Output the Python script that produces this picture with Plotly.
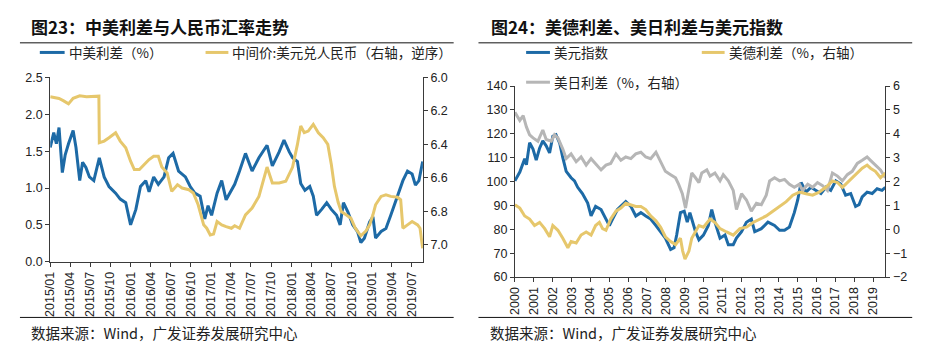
import plotly.graph_objects as go

# ---------------- data: left chart (图23) ----------------
spread_dates = ["2015-01-01", "2015-01-17", "2015-01-29", "2015-02-10", "2015-02-25", "2015-03-10",
                "2015-03-25", "2015-04-15", "2015-04-28", "2015-05-15", "2015-05-28", "2015-06-12",
                "2015-06-28", "2015-07-18", "2015-08-12", "2015-09-03", "2015-09-25", "2015-10-25",
                "2015-11-15", "2015-12-10", "2016-01-01", "2016-01-25", "2016-02-15", "2016-03-10",
                "2016-03-25", "2016-04-15", "2016-05-06", "2016-06-01", "2016-06-22", "2016-07-12",
                "2016-08-06", "2016-09-06", "2016-09-28", "2016-10-19", "2016-11-12", "2016-12-03",
                "2016-12-18", "2017-01-03", "2017-01-28", "2017-02-18", "2017-03-10", "2017-04-03",
                "2017-04-18", "2017-05-10", "2017-06-06", "2017-07-06", "2017-08-06", "2017-09-12",
                "2017-10-06", "2017-11-06", "2017-11-28", "2017-12-22", "2018-01-06", "2018-01-28",
                "2018-02-12", "2018-03-03", "2018-03-25", "2018-04-10", "2018-04-25", "2018-05-18",
                "2018-06-10", "2018-07-01", "2018-07-25", "2018-08-10", "2018-08-25", "2018-09-15",
                "2018-10-06", "2018-10-28", "2018-11-12", "2018-11-28", "2018-12-22", "2019-01-06",
                "2019-01-18", "2019-02-12", "2019-03-06", "2019-03-28", "2019-04-28", "2019-05-22",
                "2019-06-12", "2019-07-03", "2019-07-18", "2019-08-03", "2019-08-20"]
spread_vals = [1.55, 1.75, 1.60, 1.82, 1.21, 1.45,
               1.60, 1.78, 1.55, 1.10, 1.35, 1.28,
               1.15, 1.10, 1.41, 1.15, 1.02, 0.93,
               0.85, 0.80, 0.50, 0.71, 1.02, 1.10,
               0.95, 1.15, 1.05, 1.15, 1.41, 1.47,
               1.23, 1.15, 1.02, 0.93, 0.89, 0.58,
               0.76, 0.63, 0.93, 1.10, 0.84, 0.97,
               1.05, 1.23, 1.47, 1.23, 1.41, 1.58,
               1.30, 1.49, 1.65, 1.49, 1.41, 1.36,
               1.06, 0.97, 1.02, 0.89, 0.63, 0.71,
               0.80, 0.71, 0.63, 0.50, 0.80, 0.67,
               0.50, 0.41, 0.26, 0.32, 0.54, 0.61,
               0.32, 0.41, 0.45, 0.63, 0.89, 1.10,
               1.23, 1.19, 1.04, 1.10, 1.36]

cny_dates = ["2015-01-01", "2015-02-10", "2015-03-03", "2015-03-25", "2015-04-15", "2015-05-15",
             "2015-06-15", "2015-07-15", "2015-08-10", "2015-08-12", "2015-09-03", "2015-09-25",
             "2015-10-25", "2015-11-15", "2015-12-10", "2016-01-01", "2016-01-18", "2016-02-10",
             "2016-03-01", "2016-03-25", "2016-04-15", "2016-05-06", "2016-05-22", "2016-06-15",
             "2016-07-06", "2016-08-01", "2016-08-22", "2016-09-22", "2016-10-12", "2016-11-03",
             "2016-11-28", "2016-12-12", "2016-12-28", "2017-01-12", "2017-01-28", "2017-02-18",
             "2017-03-10", "2017-04-03", "2017-04-18", "2017-05-10", "2017-06-06", "2017-07-06",
             "2017-08-06", "2017-08-28", "2017-09-12", "2017-10-06", "2017-11-06", "2017-12-06",
             "2018-01-06", "2018-01-28", "2018-02-12", "2018-02-28", "2018-03-18", "2018-04-10",
             "2018-05-03", "2018-05-25", "2018-06-15", "2018-07-01", "2018-07-15", "2018-08-01",
             "2018-08-15", "2018-09-06", "2018-09-28", "2018-10-18", "2018-11-12", "2018-12-06",
             "2018-12-22", "2019-01-06", "2019-01-18", "2019-02-12", "2019-03-06", "2019-03-28",
             "2019-04-28", "2019-05-12", "2019-05-22", "2019-06-12", "2019-07-03", "2019-07-28",
             "2019-08-08", "2019-08-20"]
cny_vals = [6.116, 6.126, 6.14, 6.158, 6.125, 6.11,
            6.115, 6.115, 6.112, 6.39, 6.38, 6.36,
            6.33, 6.38, 6.42, 6.50, 6.55, 6.55,
            6.52, 6.49, 6.47, 6.47, 6.535, 6.57,
            6.68, 6.64, 6.66, 6.67, 6.69, 6.76,
            6.88, 6.90, 6.94, 6.935, 6.86, 6.88,
            6.89, 6.90, 6.885, 6.90, 6.82, 6.78,
            6.71, 6.61, 6.535, 6.63, 6.63, 6.62,
            6.535, 6.40, 6.29, 6.33, 6.32, 6.28,
            6.33, 6.36, 6.40, 6.52, 6.65, 6.745,
            6.80, 6.82, 6.84, 6.90, 6.945, 6.915,
            6.88, 6.82, 6.76, 6.71, 6.70, 6.71,
            6.715, 6.73, 6.90, 6.88, 6.86, 6.88,
            6.90, 7.02]

left_y_ticks = [0.0, 0.5, 1.0, 1.5, 2.0, 2.5]
right_y_ticks = [6.0, 6.2, 6.4, 6.6, 6.8, 7.0]

# ---------------- data: right chart (图24) ----------------
dxy_t = [0.0, 0.26, 0.52, 0.61, 0.78, 0.96, 1.13, 1.31, 1.48, 1.66, 1.84, 2.01, 2.18, 2.38, 2.54,
         2.72, 2.98, 3.16, 3.33, 3.58, 3.86, 4.04, 4.28, 4.57, 4.83, 5.01, 5.18, 5.44, 5.88, 6.15,
         6.41, 6.68, 6.94, 7.20, 7.48, 7.73, 7.98, 8.26, 8.44, 8.58, 8.78, 8.98, 9.14, 9.28, 9.58,
         9.76, 10.0, 10.26, 10.44, 10.61, 10.88, 11.14, 11.32, 11.58, 11.75, 12.02, 12.28, 12.54,
         12.72, 13.07, 13.42, 13.77, 14.04, 14.30, 14.56, 14.82, 15.0, 15.18, 15.44, 15.70, 15.96,
         16.23, 16.49, 16.75, 17.02, 17.28, 17.54, 17.81, 18.07, 18.25, 18.42, 18.68, 18.95, 19.21,
         19.47, 19.65]
dxy_vals = [100.3, 104, 109.6, 107, 116.3, 113.6, 109, 114, 117, 115, 112, 119, 119.6, 116, 110,
            104.3, 101.6, 100.3, 97.6, 95, 91, 85.6, 89.6, 88.3, 84.3, 81.6, 84.3, 88.3, 91.6, 89.6,
            85.6, 87, 85.6, 84.3, 81.6, 79, 76.3, 71.6, 72.3, 77.6, 87, 87.6, 83, 87, 79,
            75.6, 77.6, 81.6, 88.3, 83, 76.3, 77.6, 73.6, 73.6, 76.3, 79, 83, 84.3,
            79, 80.3, 83, 81.6, 79.6, 79.6, 81, 87, 92.3, 99.6, 95.6, 97.6, 96.3,
            95, 97.6, 96.3, 100.3, 99, 94.3, 95, 89.6, 90.3, 93.6, 95.6, 95, 97,
            96.3, 97.6]

de_t = [0.0, 0.26, 0.52, 0.78, 1.04, 1.31, 1.58, 1.84, 2.01, 2.28, 2.54, 2.81, 2.98, 3.25, 3.51,
        3.78, 4.04, 4.28, 4.48, 4.65, 4.83, 5.08, 5.36, 5.62, 5.88, 6.15, 6.41, 6.68, 6.94, 7.20,
        7.48, 7.73, 7.98, 8.26, 8.52, 8.78, 8.90, 9.02, 9.23, 9.38, 9.58, 9.76, 10.0, 10.35, 10.61,
        10.88, 11.23, 11.58, 11.93, 12.28, 12.63, 12.98, 13.33, 13.68, 14.04, 14.39, 14.74, 15.09,
        15.44, 15.79, 16.14, 16.49, 16.84, 17.11, 17.37, 17.63, 17.89, 18.16, 18.42, 18.68, 18.86,
        19.12, 19.39, 19.65]
de_vals = [1.03, 0.89, 0.56, 0.43, 0.16, 0.29, 0.03, -0.31, 0.16, -0.04, -0.37, -0.77, -0.51, -0.57, -0.24,
           -0.11, -0.24, 0.16, 0.29, 0.03, -0.04, 0.43, 0.76, 0.89, 1.09, 1.03, 0.96, 0.96, 0.83, 0.56,
           0.36, 0.09, -0.31, -0.51, -0.64, -0.37, -0.91, -1.25, -0.91, -0.37, -0.11, 0.16, 0.09, 0.43, 0.29,
           0.03, -0.11, -0.24, 0.03, 0.09, 0.29, 0.43, 0.56, 0.76, 0.96, 1.16, 1.43, 1.56,
           1.49, 1.43, 1.56, 1.76, 2.03, 1.96, 1.76, 1.96, 2.16, 2.36, 2.56, 2.69, 2.56,
           2.43, 2.16, 2.36]

jp_t = [0.0, 0.26, 0.44, 0.61, 0.78, 0.96, 1.22, 1.48, 1.66, 1.93, 2.10, 2.28, 2.54, 2.72, 2.98,
        3.25, 3.51, 3.78, 4.04, 4.28, 4.57, 4.83, 5.08, 5.36, 5.62, 5.88, 6.15, 6.41, 6.68, 6.94,
        7.20, 7.48, 7.73, 7.98, 8.26, 8.52, 8.68, 8.88, 9.05, 9.23, 9.38, 9.58, 9.76, 9.91, 10.18,
        10.35, 10.61, 10.88, 11.05, 11.32, 11.58, 11.75, 12.02, 12.28, 12.54, 12.81, 13.07, 13.33,
        13.51, 13.77, 14.04, 14.30, 14.56, 14.82, 15.09, 15.26, 15.53, 15.79, 16.05, 16.32, 16.58,
        16.84, 17.11, 17.37, 17.63, 17.89, 18.16, 18.42, 18.68, 18.86, 19.12, 19.39, 19.65]
jp_vals = [4.9, 4.56, 4.76, 4.29, 3.96, 3.83, 3.69, 4.16, 3.76, 3.69, 3.96, 3.83, 3.36, 2.96, 3.16,
           2.83, 3.03, 2.69, 2.96, 2.76, 2.49, 2.69, 2.76, 3.16, 2.89, 3.03, 2.96, 3.16, 3.23, 3.03,
           2.96, 3.23, 2.83, 2.43, 2.29, 2.16, 1.89, 1.49, 0.89, 1.63, 2.36, 2.16, 1.96, 2.36, 2.49,
           2.23, 2.36, 2.03, 2.29, 2.03, 1.63, 0.83, 1.49, 1.23, 0.76, 1.09, 1.03, 1.43,
           2.03, 2.16, 2.03, 2.09, 1.89, 1.76, 1.89, 1.63, 1.89, 1.76, 1.96, 1.83, 1.63,
           2.36, 2.23, 2.03, 2.29, 2.43, 2.76, 2.89, 3.03, 2.89, 2.69, 2.49, 2.16]

year_ticks = list(range(2000, 2020))
year_base = 2000

# ---------------- styling ----------------
PAGE_W, PAGE_H = 937, 359
OFF = 8  # default page body margin
W, H = PAGE_W - OFF, PAGE_H - OFF
BLUE = "#1d6aa6"
GOLD = "#e6c76c"
GRAY = "#b6b6b6"
AX = "#3a3a3a"
TXT = "#222222"
CJK = "Noto Sans CJK SC"
NUM = "Liberation Sans, Arial, sans-serif"
LW = 3


def px(x):
    return (x - OFF) / W


def py(y):
    return 1 - (y - OFF) / H


fig = go.Figure()

# left chart traces
fig.add_trace(go.Scatter(x=spread_dates, y=spread_vals, mode="lines", name="中美利差（%）",
                         line=dict(color=BLUE, width=LW), xaxis="x", yaxis="y", showlegend=False))
fig.add_trace(go.Scatter(x=cny_dates, y=cny_vals, mode="lines", name="中间价:美元兑人民币（右轴，逆序）",
                         line=dict(color=GOLD, width=LW), xaxis="x", yaxis="y2", showlegend=False))

# right chart traces
fig.add_trace(go.Scatter(x=[year_base + t for t in jp_t], y=jp_vals, mode="lines", name="美日利差（%，右轴）",
                         line=dict(color=GRAY, width=LW), xaxis="x3", yaxis="y4", showlegend=False))
fig.add_trace(go.Scatter(x=[year_base + t for t in dxy_t], y=dxy_vals, mode="lines", name="美元指数",
                         line=dict(color=BLUE, width=LW), xaxis="x3", yaxis="y3", showlegend=False))
fig.add_trace(go.Scatter(x=[year_base + t for t in de_t], y=de_vals, mode="lines", name="美德利差（%，右轴）",
                         line=dict(color=GOLD, width=LW), xaxis="x3", yaxis="y4", showlegend=False))

axis_common = dict(showline=True, linecolor=AX, linewidth=1, ticks="outside", ticklen=4,
                   tickcolor=AX, showgrid=False, zeroline=False,
                   tickfont=dict(family=NUM, size=12.5, color=TXT))

L_dom_y = [py(265), py(73)]
R_dom_y = [py(281), py(82)]

fig.update_layout(
    width=W, height=H,
    margin=dict(l=0, r=0, t=0, b=0),
    paper_bgcolor="white", plot_bgcolor="white",
    xaxis=dict(domain=[px(43.5), px(419)], anchor="y", type="date",
               range=["2015-01-01", "2019-08-21"], tick0="2015-01-01", dtick="M3",
               tickformat="%Y/%m", tickangle=-90, **axis_common),
    yaxis=dict(domain=L_dom_y, anchor="x", range=[0, 2.5], tickvals=left_y_ticks,
               tickformat=".1f", **axis_common),
    yaxis2=dict(overlaying="y", side="right", anchor="x", range=[7.1, 6.0],
                tickvals=right_y_ticks, tickformat=".1f", **axis_common),
    xaxis3=dict(domain=[px(511.7), px(885)], anchor="y3", range=[2000, 2019.65],
                tickvals=year_ticks, tickformat="d", tickangle=-90, **axis_common),
    yaxis3=dict(domain=R_dom_y, anchor="x3", range=[60, 140], dtick=10, **axis_common),
    yaxis4=dict(overlaying="y3", side="right", anchor="x3", range=[-2, 6], dtick=1, **axis_common),
)

shapes = []
annotations = []

# rules under titles and above sources
for x0, x1 in [(13, 450), (475, 912)]:
    shapes.append(dict(type="line", xref="paper", yref="paper", x0=px(x0), x1=px(x1),
                       y0=py(37), y1=py(37), line=dict(color="#111111", width=1)))
    shapes.append(dict(type="line", xref="paper", yref="paper", x0=px(x0), x1=px(x1),
                       y0=py(323), y1=py(323), line=dict(color="#111111", width=1)))

# titles
for x, txt in [(22, "图23：中美利差与人民币汇率走势"), (486, "图24：美德利差、美日利差与美元指数")]:
    annotations.append(dict(xref="paper", yref="paper", x=px(x), y=py(20), xanchor="left",
                            yanchor="middle", showarrow=False, text="<b>" + txt + "</b>",
                            font=dict(family=CJK, size=17, color="#111111")))

# sources
for x in [22, 485]:
    annotations.append(dict(xref="paper", yref="paper", x=px(x), y=py(339), xanchor="left",
                            yanchor="middle", showarrow=False,
                            text="数据来源：Wind，广发证券发展研究中心",
                            font=dict(family=CJK, size=14.5, color=TXT)))

# legends (manual)
legend_items = [
    (33, 58, 47, BLUE, "中美利差（%）"),
    (200, 223, 47, GOLD, "中间价:美元兑人民币（右轴，逆序）"),
    (523, 547, 47, BLUE, "美元指数"),
    (700, 723, 47, GOLD, "美德利差（%，右轴）"),
    (523, 547, 78, GRAY, "美日利差（%，右轴）"),
]
for x0, x1, y, c, txt in legend_items:
    shapes.append(dict(type="line", xref="paper", yref="paper", x0=px(x0), x1=px(x1),
                       y0=py(y), y1=py(y), line=dict(color=c, width=3)))
    annotations.append(dict(xref="paper", yref="paper", x=px(x1 + 2), y=py(y), xanchor="left",
                            yanchor="middle", showarrow=False, text=txt,
                            font=dict(family=CJK, size=13.5, color=TXT)))

fig.update_layout(shapes=shapes, annotations=annotations)

fig.write_html("out.html")
